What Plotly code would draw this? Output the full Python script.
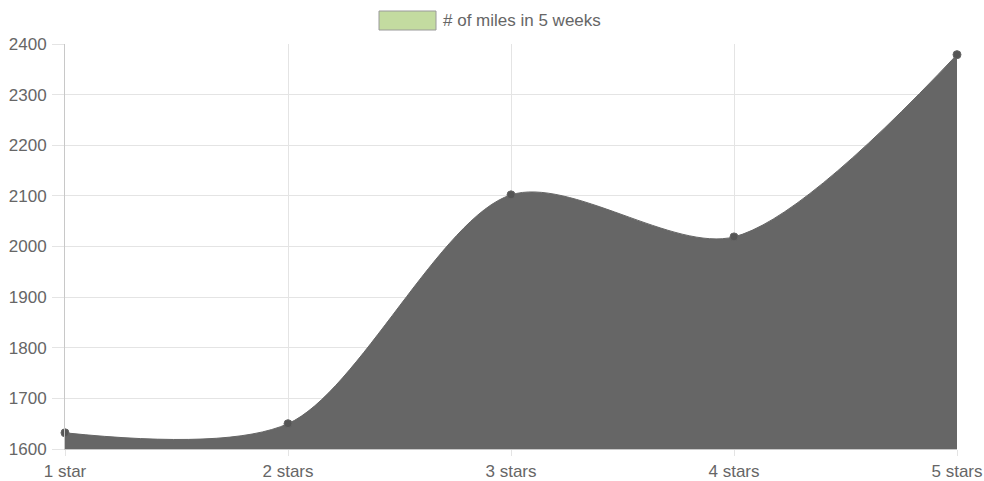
import plotly.graph_objects as go

# Miles logged per star rating
ratings = ["1 star", "2 stars", "3 stars", "4 stars", "5 stars"]
miles = [1632, 1650, 2102, 2019, 2379]
y_ticks = [1600, 1700, 1800, 1900, 2000, 2100, 2200, 2300, 2400]
series_name = "# of miles in 5 weeks"

FONT = "Liberation Sans, Arial, sans-serif"
GRID = "#e4e4e4"
AXIS = "#c8c8c8"
TEXT = "#666666"

fig = go.Figure()
fig.add_trace(go.Scatter(
    x=ratings,
    y=miles,
    mode="lines+markers",
    line=dict(shape="spline", smoothing=0.85, color="#666666", width=1),
    fill="tozeroy",
    fillcolor="#666666",
    marker=dict(size=8, color="#555555", line=dict(color="#666666", width=1)),
    cliponaxis=False,
    showlegend=False,
    hoverinfo="x+y",
))

# Legend swatch and label above the plot
fig.add_shape(type="rect", xref="paper", yref="paper",
              x0=(379 - 65) / 892, x1=(436 - 65) / 892,
              y0=1 + (44 - 30) / 405, y1=1 + (44 - 11) / 405,
              fillcolor="#c3dba0", line=dict(color="#9a9a9a", width=1))
fig.add_annotation(xref="paper", yref="paper",
                   x=(441 - 65) / 892, y=1 + (44 - 20.5) / 405,
                   xanchor="left", yanchor="middle", showarrow=False,
                   text=series_name, font=dict(family=FONT, size=17, color=TEXT))

fig.update_layout(
    width=984, height=481,
    margin=dict(l=65, r=27, t=44, b=32),
    paper_bgcolor="white", plot_bgcolor="white",
    font=dict(family=FONT, size=17, color=TEXT),
    showlegend=False,
    xaxis=dict(
        type="category", categoryorder="array", categoryarray=ratings,
        range=[0, len(ratings) - 1],
        automargin=False,
        showgrid=True, gridcolor=GRID, gridwidth=1,
        showline=True, linecolor=AXIS, linewidth=1,
        ticks="outside", ticklen=6, tickcolor=GRID,
        tickfont=dict(family=FONT, size=17, color=TEXT),
        ticklabelstandoff=1,
        zeroline=False,
    ),
    yaxis=dict(
        range=[y_ticks[0], y_ticks[-1]],
        tickvals=y_ticks,
        automargin=False,
        showgrid=True, gridcolor=GRID, gridwidth=1,
        showline=True, linecolor=AXIS, linewidth=1,
        ticks="outside", ticklen=12, tickcolor=GRID,
        tickfont=dict(family=FONT, size=17, color=TEXT),
        ticklabelstandoff=2,
        zeroline=False,
    ),
)

fig.write_html("out.html")
